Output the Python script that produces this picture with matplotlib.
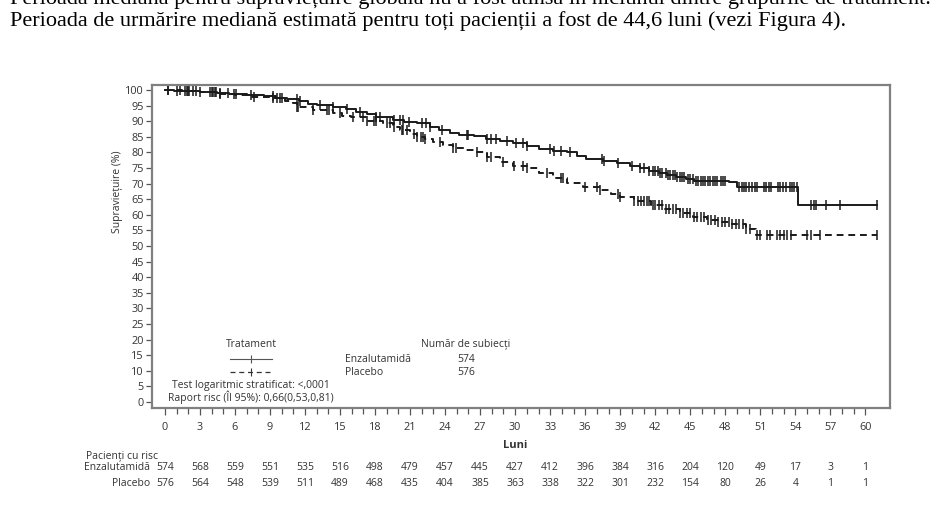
import numpy as np
import matplotlib
matplotlib.use("Agg")
import matplotlib.pyplot as plt
import matplotlib.transforms as mtransforms

# ---------------- data ----------------
enz_t = [0, 0.8, 2, 3, 4.5, 5.5, 7, 8.5, 9.5, 10.5, 11.5, 12.3, 13, 14.4, 15.5, 16.4,
         17.3, 18.1, 19.5, 20.5, 21.6, 22.7, 23.5, 24.4, 25.2, 26.5, 27.5, 28.7, 29.8,
         31.0, 32.0, 33.2, 34.4, 35.3, 36.1, 37.5, 38.7, 39.8, 40.7, 41.5, 42.3, 43.0,
         43.8, 44.6, 45.3, 48.3, 49.0, 54.2, 61.0]
enz_s = [100, 99.8, 99.6, 99.4, 99.0, 98.7, 98.4, 98.0, 97.5, 97.0, 96.4, 95.6, 95.2,
         94.7, 93.8, 93.0, 92.2, 91.4, 90.4, 89.8, 89.3, 88.2, 87.2, 86.1, 85.5, 85.2,
         84.4, 83.6, 83.0, 82.0, 81.2, 80.6, 80.0, 79.0, 77.9, 77.4, 76.7, 75.6, 74.9,
         74.0, 73.3, 72.8, 72.1, 71.4, 70.9, 70.6, 68.8, 63.3, 63.3]

pla_t = [0, 1.5, 3, 4.5, 6, 7.5, 9, 10.3, 11.0, 11.3, 12.7, 14.4, 15.2, 15.9, 17.3,
         18.7, 19.5, 20.1, 21.0, 21.6, 22.3, 23.0, 23.8, 24.7, 25.6, 26.7, 27.6, 28.7,
         29.8, 31.0, 32.0, 33.2, 34.4, 35.8, 37.3, 38.2, 39.0, 40.2, 41.6, 42.8, 44.1,
         45.2, 46.4, 47.4, 48.4, 49.8, 50.6, 61.0]
pla_s = [100, 99.7, 99.3, 98.8, 98.3, 97.8, 97.3, 96.6, 95.8, 94.7, 93.6, 92.6, 91.8,
         91.2, 90.2, 89.3, 88.2, 87.2, 86.0, 85.0, 84.3, 83.4, 82.4, 81.3, 80.8, 80.2,
         78.6, 77.0, 75.8, 74.9, 73.4, 71.7, 70.1, 69.0, 67.9, 66.8, 65.8, 64.5, 63.1,
         61.8, 60.5, 59.4, 58.3, 57.8, 57.2, 55.6, 53.5, 53.5]

enz_cens = [0.3, 1.0, 1.7, 1.9, 2.1, 2.4, 2.7, 3.0, 4.0, 4.3, 4.7, 5.4, 6.1, 7.4, 9.3,
            9.6, 10.0, 11.3, 11.6, 13.3, 14.4, 15.6, 16.7, 18.1, 18.4, 19.6, 20.1, 20.4,
            20.9, 22.0, 22.4, 22.7, 23.7, 25.9, 26.0, 27.6, 27.9, 28.4, 29.3, 30.1, 30.7,
            31.0, 33.0, 33.3, 33.9, 34.7, 37.4, 37.6, 38.8, 40.0, 40.7, 41.0, 41.5, 41.8,
            42.0, 42.2, 42.4, 42.6, 42.9, 43.1, 43.3, 43.5, 43.7, 43.9, 44.1, 44.3, 44.5,
            44.8, 45.0, 45.2, 45.5, 45.7, 45.9, 46.1, 46.3, 46.5, 46.7, 46.9, 47.1, 47.3,
            47.6, 47.8, 48.0, 49.2, 49.4, 49.6, 49.8, 50.0, 50.3, 50.5, 50.7, 51.3, 51.5,
            51.7, 51.9, 52.5, 52.7, 52.9, 53.2, 53.5, 53.7, 53.9, 54.1, 55.3, 55.6, 55.8,
            56.6, 57.8, 61.0]
pla_cens = [0.3, 1.3, 2.0, 3.9, 4.1, 4.4, 4.7, 5.9, 7.6, 9.3, 9.9, 11.3, 11.4, 12.7,
            13.9, 14.1, 15.0, 16.1, 17.0, 17.3, 17.9, 18.1, 19.0, 19.3, 19.6, 20.3, 20.4,
            20.7, 21.3, 21.6, 21.9, 22.1, 22.3, 23.6, 24.7, 24.9, 26.7, 27.6, 27.9, 29.0,
            29.9, 30.7, 31.0, 32.7, 33.9, 34.1, 36.0, 37.0, 37.3, 38.8, 39.0, 40.2, 40.5,
            40.8, 41.0, 41.3, 41.5, 41.8, 42.0, 42.3, 42.6, 42.9, 43.2, 43.5, 43.8, 44.1,
            44.4, 44.7, 45.0, 45.3, 45.6, 45.9, 46.2, 46.5, 46.8, 47.1, 47.4, 47.7, 48.0,
            48.3, 48.6, 48.9, 49.2, 49.5, 49.8, 50.1, 50.7, 51.0, 51.6, 51.8, 52.4, 52.7,
            53.0, 53.3, 53.6, 55.0, 55.3, 56.1, 61.0]

risk_times = list(range(0, 61, 3))
risk_enz = [574, 568, 559, 551, 535, 516, 498, 479, 457, 445, 427, 412, 396, 384, 316,
            204, 120, 49, 17, 3, 1]
risk_pla = [576, 564, 548, 539, 511, 489, 468, 435, 404, 385, 363, 338, 322, 301, 232,
            154, 80, 26, 4, 1, 1]

arm_names = ["Enzalutamidă", "Placebo"]
arm_n = [574, 576]

header1 = ("Perioada mediană pentru supraviețuire globală nu a fost atinsă în niciunul "
           "dintre grupurile de tratament.")
header2 = ("Perioada de urmărire mediană estimată pentru toți pacienții a fost de "
           "44,6 luni (vezi Figura 4).")

# ---------------- figure ----------------
SANS = ["Open Sans", "DejaVu Sans"]
plt.rcParams["font.family"] = SANS
INK = "#1a1a1a"
TXT = "#333333"

W, H = 937, 521
fig = plt.figure(figsize=(W / 100, H / 100), dpi=100)
ax = fig.add_axes([152 / W, 1 - 408 / H, (890 - 152) / W, (408 - 85) / H])

def step_value(times, surv, x):
    idx = np.searchsorted(np.asarray(times), np.asarray(x), side="right") - 1
    idx = np.clip(idx, 0, len(surv) - 1)
    return np.asarray(surv)[idx]

ax.step(enz_t, enz_s, where="post", color=INK, lw=1.4)
ax.step(pla_t, pla_s, where="post", color=INK, lw=1.4, linestyle=(0, (3.5, 2.5)))
ax.plot(enz_cens, step_value(enz_t, enz_s, enz_cens), linestyle="none", marker="|",
        ms=6.5, mew=1.1, color=INK)
ax.plot(pla_cens, step_value(pla_t, pla_s, pla_cens), linestyle="none", marker="|",
        ms=6.5, mew=1.1, color=INK)

ax.set_xlim(-1.1, 62.1)
ax.set_ylim(-1.9, 101.6)
ax.set_yticks(range(0, 101, 5))
ax.set_xticks(range(0, 61, 3))
ax.set_xticks(range(0, 61, 1), minor=True)
ax.tick_params(axis="both", which="major", direction="out", length=4, width=0.9,
               color="#555555", labelsize=7.8, labelcolor=TXT, pad=2)
ax.tick_params(axis="x", which="major", length=5, pad=5)
ax.tick_params(axis="x", which="minor", direction="out", length=4, width=0.9,
               color="#555555")
for s in ax.spines.values():
    s.set_color("#808080")
    s.set_linewidth(1.6)

# legend block inside
ax.text(7.4, 18.3, "Tratament", ha="center", va="center", fontsize=7.5, color=TXT)
ax.plot([5.6, 9.2], [13.8, 13.8], color="#555555", lw=0.8)
ax.plot([7.4], [13.8], marker="|", ms=6, mew=0.8, color="#555555")
ax.plot([5.6, 9.2], [9.6, 9.6], color="#333333", lw=0.9, linestyle=(0, (4, 3)))
ax.plot([7.4], [9.6], marker="|", ms=6, mew=0.8, color="#333333")
ax.text(15.4, 13.8, arm_names[0], ha="left", va="center", fontsize=7.5, color=TXT)
ax.text(15.4, 9.6, arm_names[1], ha="left", va="center", fontsize=7.5, color=TXT)
ax.text(25.8, 18.3, "Număr de subiecți", ha="center", va="center", fontsize=7.5,
        color=TXT)
ax.text(25.8, 13.8, str(arm_n[0]), ha="center", va="center", fontsize=7.5, color=TXT)
ax.text(25.8, 9.6, str(arm_n[1]), ha="center", va="center", fontsize=7.5, color=TXT)
ax.text(7.4, 5.4, "Test logaritmic stratificat: <,0001", ha="center", va="center",
        fontsize=7.5, color=TXT)
ax.text(7.4, 1.6, "Raport risc (Îl 95%): 0,66(0,53,0,81)", ha="center", va="center",
        fontsize=7.5, color=TXT)

# y label
fig.text(118 / W, 1 - 192 / H, "Supraviețuire (%)", rotation=90, ha="center",
         va="center", fontsize=7.5, color=TXT)

# x label + at-risk table
bt = mtransforms.blended_transform_factory(ax.transData, fig.transFigure)
ax.text(30, 1 - 445 / H, "Luni", transform=bt, ha="center", va="center",
        fontsize=8, fontweight="bold", color=TXT)
fig.text(86 / W, 1 - 456 / H, "Pacienți cu risc", ha="left", va="center",
         fontsize=7.5, color=TXT)
fig.text(150 / W, 1 - 468 / H, arm_names[0], ha="right", va="center", fontsize=7.5,
         color=TXT)
fig.text(150 / W, 1 - 483 / H, arm_names[1], ha="right", va="center", fontsize=7.5,
         color=TXT)
for t, a, b in zip(risk_times, risk_enz, risk_pla):
    ax.text(t, 1 - 468 / H, str(a), transform=bt, ha="center", va="center",
            fontsize=7.5, color=TXT, clip_on=False)
    ax.text(t, 1 - 483 / H, str(b), transform=bt, ha="center", va="center",
            fontsize=7.5, color=TXT, clip_on=False)

# header text (first line is cut off at the top edge, as in the source)
fig.text(10 / W, 1 - 4 / H, header1, ha="left", va="baseline", fontsize=16,
         family=["Liberation Serif", "DejaVu Serif"], color="black")
fig.text(10 / W, 1 - 26 / H, header2, ha="left", va="baseline", fontsize=16,
         family=["Liberation Serif", "DejaVu Serif"], color="black")

fig.savefig("out.png", dpi=100)
